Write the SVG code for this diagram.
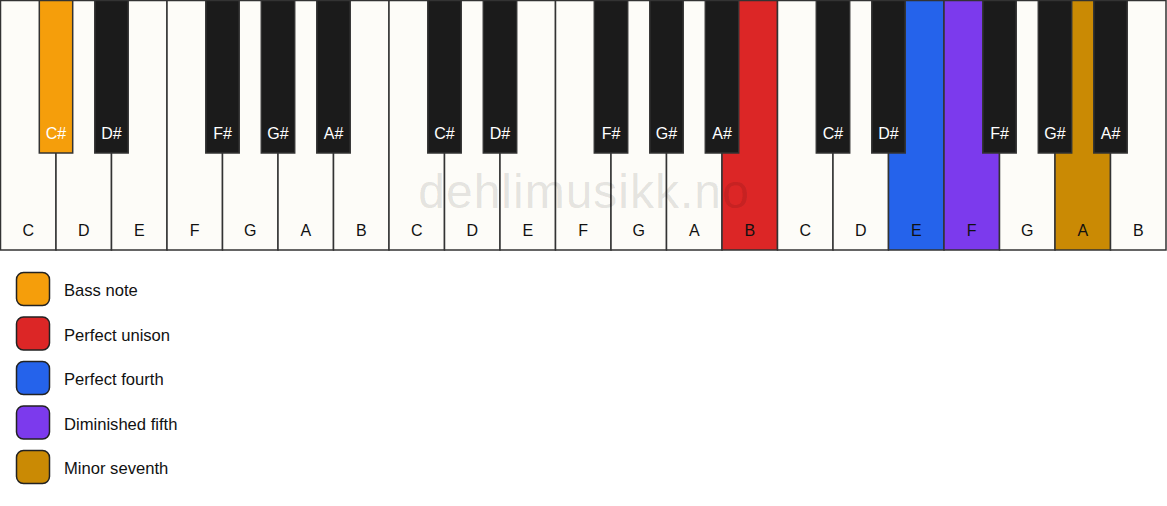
<svg xmlns="http://www.w3.org/2000/svg" width="1167" height="506" viewBox="0 0 1167 506">
<style>
.w{fill:#fdfcf8;stroke:#333;stroke-width:1.5}
.b{fill:#1b1b1b;stroke:#333;stroke-width:1.5}
.wl{font-family:"Liberation Sans",Arial,sans-serif;font-size:16px;fill:#111;text-anchor:middle}
.bl{font-family:"Liberation Sans",Arial,sans-serif;font-size:16px;fill:#fff;text-anchor:middle}
.lg{stroke:#222;stroke-width:1.5}
.lt{font-family:"Liberation Sans",Arial,sans-serif;font-size:16.6px;fill:#111}
.wm{font-family:"Liberation Sans",Arial,sans-serif;font-size:48px;fill:#000;fill-opacity:0.11;text-anchor:middle;letter-spacing:1px}
</style>
<rect width="1167" height="506" fill="#ffffff"/>
<g id="white-keys">
<g id="w0"><rect class="w" x="0.5" y="0.5" width="55.5" height="249.5"/><text class="wl" x="28.25" y="236">C</text></g>
<g id="w1"><rect class="w" x="56" y="0.5" width="55.5" height="249.5"/><text class="wl" x="83.75" y="236">D</text></g>
<g id="w2"><rect class="w" x="111.5" y="0.5" width="55.5" height="249.5"/><text class="wl" x="139.25" y="236">E</text></g>
<g id="w3"><rect class="w" x="167" y="0.5" width="55.5" height="249.5"/><text class="wl" x="194.75" y="236">F</text></g>
<g id="w4"><rect class="w" x="222.5" y="0.5" width="55.5" height="249.5"/><text class="wl" x="250.25" y="236">G</text></g>
<g id="w5"><rect class="w" x="278" y="0.5" width="55.5" height="249.5"/><text class="wl" x="305.75" y="236">A</text></g>
<g id="w6"><rect class="w" x="333.5" y="0.5" width="55.5" height="249.5"/><text class="wl" x="361.25" y="236">B</text></g>
<g id="w7"><rect class="w" x="389" y="0.5" width="55.5" height="249.5"/><text class="wl" x="416.75" y="236">C</text></g>
<g id="w8"><rect class="w" x="444.5" y="0.5" width="55.5" height="249.5"/><text class="wl" x="472.25" y="236">D</text></g>
<g id="w9"><rect class="w" x="500" y="0.5" width="55.5" height="249.5"/><text class="wl" x="527.75" y="236">E</text></g>
<g id="w10"><rect class="w" x="555.5" y="0.5" width="55.5" height="249.5"/><text class="wl" x="583.25" y="236">F</text></g>
<g id="w11"><rect class="w" x="611" y="0.5" width="55.5" height="249.5"/><text class="wl" x="638.75" y="236">G</text></g>
<g id="w12"><rect class="w" x="666.5" y="0.5" width="55.5" height="249.5"/><text class="wl" x="694.25" y="236">A</text></g>
<g id="w13"><rect class="w" x="722" y="0.5" width="55.5" height="249.5" style="fill:#dc2626"/><text class="wl" x="749.75" y="236">B</text></g>
<g id="w14"><rect class="w" x="777.5" y="0.5" width="55.5" height="249.5"/><text class="wl" x="805.25" y="236">C</text></g>
<g id="w15"><rect class="w" x="833" y="0.5" width="55.5" height="249.5"/><text class="wl" x="860.75" y="236">D</text></g>
<g id="w16"><rect class="w" x="888.5" y="0.5" width="55.5" height="249.5" style="fill:#2563eb"/><text class="wl" x="916.25" y="236">E</text></g>
<g id="w17"><rect class="w" x="944" y="0.5" width="55.5" height="249.5" style="fill:#7c3aed"/><text class="wl" x="971.75" y="236">F</text></g>
<g id="w18"><rect class="w" x="999.5" y="0.5" width="55.5" height="249.5"/><text class="wl" x="1027.25" y="236">G</text></g>
<g id="w19"><rect class="w" x="1055" y="0.5" width="55.5" height="249.5" style="fill:#ca8a04"/><text class="wl" x="1082.75" y="236">A</text></g>
<g id="w20"><rect class="w" x="1110.5" y="0.5" width="55.5" height="249.5"/><text class="wl" x="1138.25" y="236">B</text></g>
</g>
<text class="wm" x="584" y="208">dehlimusikk.no</text>
<g id="black-keys">
<g id="b0"><rect class="b" x="39.3" y="0.5" width="33.4" height="152.5" style="fill:#f59e0b"/><text class="bl" x="56" y="139">C#</text></g>
<g id="b1"><rect class="b" x="94.8" y="0.5" width="33.4" height="152.5"/><text class="bl" x="111.5" y="139">D#</text></g>
<g id="b2"><rect class="b" x="205.8" y="0.5" width="33.4" height="152.5"/><text class="bl" x="222.5" y="139">F#</text></g>
<g id="b3"><rect class="b" x="261.3" y="0.5" width="33.4" height="152.5"/><text class="bl" x="278" y="139">G#</text></g>
<g id="b4"><rect class="b" x="316.8" y="0.5" width="33.4" height="152.5"/><text class="bl" x="333.5" y="139">A#</text></g>
<g id="b5"><rect class="b" x="427.8" y="0.5" width="33.4" height="152.5"/><text class="bl" x="444.5" y="139">C#</text></g>
<g id="b6"><rect class="b" x="483.3" y="0.5" width="33.4" height="152.5"/><text class="bl" x="500" y="139">D#</text></g>
<g id="b7"><rect class="b" x="594.3" y="0.5" width="33.4" height="152.5"/><text class="bl" x="611" y="139">F#</text></g>
<g id="b8"><rect class="b" x="649.8" y="0.5" width="33.4" height="152.5"/><text class="bl" x="666.5" y="139">G#</text></g>
<g id="b9"><rect class="b" x="705.3" y="0.5" width="33.4" height="152.5"/><text class="bl" x="722" y="139">A#</text></g>
<g id="b10"><rect class="b" x="816.3" y="0.5" width="33.4" height="152.5"/><text class="bl" x="833" y="139">C#</text></g>
<g id="b11"><rect class="b" x="871.8" y="0.5" width="33.4" height="152.5"/><text class="bl" x="888.5" y="139">D#</text></g>
<g id="b12"><rect class="b" x="982.8" y="0.5" width="33.4" height="152.5"/><text class="bl" x="999.5" y="139">F#</text></g>
<g id="b13"><rect class="b" x="1038.3" y="0.5" width="33.4" height="152.5"/><text class="bl" x="1055" y="139">G#</text></g>
<g id="b14"><rect class="b" x="1093.8" y="0.5" width="33.4" height="152.5"/><text class="bl" x="1110.5" y="139">A#</text></g>
</g>
<g id="connectors"></g>
<g id="legend">
<g id="lg-bass"><rect class="lg" x="16.5" y="272.5" width="33" height="33" rx="7" fill="#f59e0b"/><text class="lt" x="64" y="296">Bass note</text></g>
<g id="lg-unison"><rect class="lg" x="16.5" y="317" width="33" height="33" rx="7" fill="#dc2626"/><text class="lt" x="64" y="340.5">Perfect unison</text></g>
<g id="lg-fourth"><rect class="lg" x="16.5" y="361.5" width="33" height="33" rx="7" fill="#2563eb"/><text class="lt" x="64" y="385">Perfect fourth</text></g>
<g id="lg-dim5"><rect class="lg" x="16.5" y="406" width="33" height="33" rx="7" fill="#7c3aed"/><text class="lt" x="64" y="429.5">Diminished fifth</text></g>
<g id="lg-min7"><rect class="lg" x="16.5" y="450.5" width="33" height="33" rx="7" fill="#ca8a04"/><text class="lt" x="64" y="474">Minor seventh</text></g>
</g>
</svg>
